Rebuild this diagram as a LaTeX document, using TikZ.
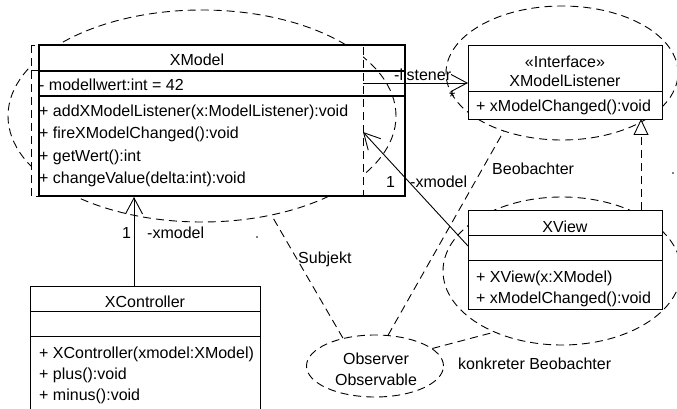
\documentclass[tikz,border=0pt]{standalone}
\usepackage{fontspec}
\setmainfont{Liberation Sans}
\usetikzlibrary{arrows.meta,shapes.geometric}
\begin{document}
\begin{tikzpicture}[x=1pt,y=-1pt, font=\fontsize{16}{22}\selectfont,
  dsh/.style={dash pattern=on 8pt off 5pt, line width=0.9pt},
  umlbox/.style={draw, fill=white, line width=0.9pt, inner sep=0pt, anchor=north west},
  thk/.style={line width=2.2pt},
  txt/.style={anchor=base west, inner sep=0pt},
  ctxt/.style={anchor=base, inner sep=0pt},
  ell/.style={ellipse, draw, dsh, inner sep=0pt},
  assoc/.style={line width=0.9pt, -{Straight Barb[length=16pt,width=17pt]}},
  gen/.style={dsh, -{Triangle[length=16pt,width=15pt,fill=white,line width=0.9pt]}},
]
\useasboundingbox (0,0) rectangle (677,409);

% ellipses (drawn first, behind boxes)
\node[ell, minimum width=388pt, minimum height=212pt] (mell) at (202,116) {};
\node[ell, minimum width=232pt, minimum height=134pt] (lell) at (562,73) {};
\node[ell, minimum width=238pt, minimum height=148pt] (vell) at (562,271) {};
\node[ell, minimum width=137pt, minimum height=62pt] (obs) at (375,366) {};

% XModel (dashed ghost box + thick box)
\node[fill=white, inner sep=0pt, anchor=north west, minimum width=332pt, minimum height=151pt] (model) at (31,45) {};
\draw[dsh] (31,45) rectangle (363,196);
\draw[dsh] (31,70) -- (363,70);
\draw[thk] (39,45) rectangle (405,196);
\draw[thk] (39,71) -- (405,71);
\draw[thk] (39,96) -- (405,96);
\node[ctxt] (mname) at (197,66) {XModel};
\node[txt] (m0) at (39,91) {- modellwert:int = 42};
\node[txt] (m1) at (39,117) {+ addXModelListener(x:ModelListener):void};
\node[txt] (m2) at (39,139) {+ fireXModelChanged():void};
\node[txt] (m3) at (39,161) {+ getWert():int};
\node[txt] (m4) at (39,183) {+ changeValue(delta:int):void};

% XModelListener
\node[umlbox, minimum width=194pt, minimum height=74pt] (lst) at (468,45) {};
\draw[line width=0.9pt] (468,91) -- (662,91);
\node[ctxt] (lst1) at (565,68) {«Interface»};
\node[ctxt] (lst2) at (565,87) {XModelListener};
\node[txt] (lst3) at (476,112) {+ xModelChanged():void};

% XView
\node[umlbox, minimum width=194pt, minimum height=99pt] (view) at (468,210) {};
\draw[line width=0.9pt] (468,235) -- (662,235);
\draw[line width=0.9pt] (468,260) -- (662,260);
\node[ctxt] (v0) at (565,232) {XView};
\node[txt] (v1) at (476,282) {+ XView(x:XModel)};
\node[txt] (v2) at (476,303) {+ xModelChanged():void};

% XController
\node[umlbox, minimum width=230pt, minimum height=130pt] (ctrl) at (30,286) {};
\draw[line width=0.9pt] (30,311) -- (260,311);
\draw[line width=0.9pt] (30,336) -- (260,336);
\node[ctxt] (c0) at (145,307) {XController};
\node[txt] (c1) at (39,358) {+ XController(xmodel:XModel)};
\node[txt] (c2) at (39,379) {+ plus():void};
\node[txt] (c3) at (39,400) {+ minus():void};

% connector end points
\coordinate (ctrlTop) at (134,286);
\coordinate (modelBot) at (134,197);
\coordinate (modelRight) at (363,83);
\coordinate (lstLeft) at (468,83);
\coordinate (viewLeft) at (468,246);
\coordinate (modelIn) at (363,132);
\coordinate (viewTop) at (641,210);
\coordinate (lstBot) at (641,119);

% connectors
\draw[assoc] (ctrlTop) -- (modelBot);
\draw[assoc] (modelRight) -- (lstLeft);
\draw[assoc] (viewLeft) -- (modelIn);
\draw[gen] (viewTop) -- (lstBot);
\draw[dsh] (obs.139) -- (mell.-55);
\draw[dsh] (obs.67) -- (lell.-135);
\draw[dsh] (obs.17) -- (vell.-138);

% labels
\node[txt] (l1) at (394,81) {-listener};
\node[txt] (l2) at (449,103) {*};
\node[txt] (l3) at (386,187) {1};
\node[txt] (l4) at (410,187) {-xmodel};
\node[txt] (l5) at (122,238) {1};
\node[txt] (l6) at (147,238) {-xmodel};
\node[txt] (l7) at (492,175) {Beobachter};
\node[txt] (l8) at (298,263) {Subjekt};
\node[txt] (l9) at (458,369) {konkreter Beobachter};
\node[ctxt] (o1) at (376,364) {Observer};
\node[ctxt] (o2) at (376,385) {Observable};

\fill (257,237) circle (0.9pt);
\fill (673,173) circle (0.9pt);
\end{tikzpicture}
\end{document}
